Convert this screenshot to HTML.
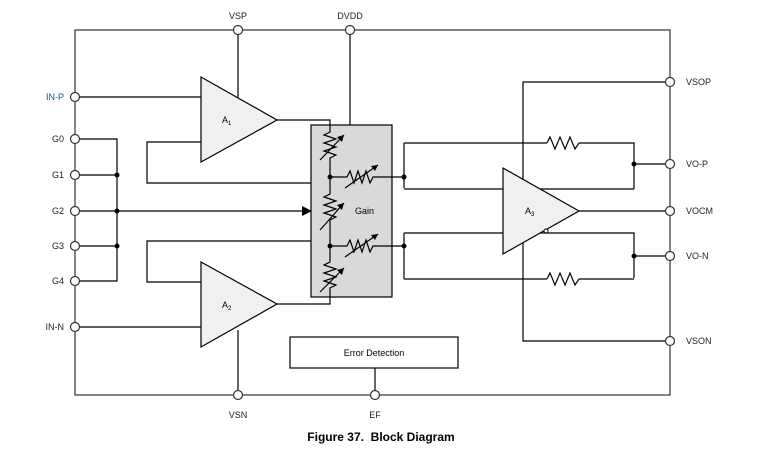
<!DOCTYPE html>
<html><head><style>body{margin:0;background:#fff}svg{display:block}text{font-family:"Liberation Sans",sans-serif}</style></head><body>
<svg width="763" height="457" viewBox="0 0 763 457" xmlns="http://www.w3.org/2000/svg">
<g stroke="#000" stroke-width="1.2" fill="none">
<rect x="75" y="30" width="595" height="365" stroke="#333"/>
<!-- left bus -->
<path d="M75 97H201 M75 327H201 M75 139H117V281H75 M75 175H117 M75 246H117 M75 211H305"/>
<!-- A1 loop -->
<path d="M201 142H147V183H311 M201 282H147V241H311"/>
<!-- supply lines -->
<path d="M238 30V100 M238 330V395 M350 30V125 M375 368V395"/>
<!-- A1 out -->
<path d="M277 120H330V125 M277 304H330V297"/>
<!-- right networks -->
<path d="M404 143V188 M404 143H547 M579 143H634V189 M404 189H634 M634 164H670 M404 233V279 M404 233H634V278 M404 279H547 M579 279H634 M634 256H670 M579 211H670"/>
<path d="M670 82H523V341H670"/>
<path d="M547 143l3 -6 5 12 5 -12 5 12 5 -12 5 12 4 -6 M547 279l3 -6 5 12 5 -12 5 12 5 -12 5 12 4 -6"/>
</g>
<!-- gain box -->
<rect x="311" y="125" width="81" height="172" fill="#d9d9d9" stroke="#000" stroke-width="1.2"/>
<g stroke="#000" stroke-width="1.2" fill="none">
<path d="M330 125V132l-6 3 12 4-12 4 12 4-12 4 12 4-6 3V177 M330 177V194l-6 3 12 4-12 4 12 4-12 4 12 4-6 3V246 M330 246V262l-6 3 12 4-12 4 12 4-12 4 12 4-6 3V297"/>
<path d="M330 177H347l3 -6 4 12 4 -12 4 12 4 -12 4 12 3 -6H404 M330 246H347l3 -6 4 12 4 -12 4 12 4 -12 4 12 3 -6H404"/>
<path d="M320 160L344 135 M320 230L344 203 M320 292L344 268 M345 188L378 165 M345 257L378 234"/>
</g>
<g fill="#000">
<path d="M344 135l-7 2 5 5z M344 203l-7 2 5 5z M344 268l-7 2 5 5z M378 165l-7 1 4 5z M378 234l-7 1 4 5z"/>
<path d="M302 206L312 211L302 216z"/>
<circle cx="117" cy="175" r="2.5"/><circle cx="117" cy="211" r="2.5"/><circle cx="117" cy="246" r="2.5"/>
<circle cx="330" cy="177" r="2.5"/><circle cx="330" cy="246" r="2.5"/>
<circle cx="404" cy="177" r="2.5"/><circle cx="404" cy="246" r="2.5"/>
<circle cx="634" cy="164" r="2.5"/><circle cx="634" cy="256" r="2.5"/>
</g>
<text x="355" y="214" font-size="9">Gain</text>
<!-- amps -->
<g stroke="#000" stroke-width="1.2" fill="#f0f0f0">
<path d="M201 77L277 120L201 162Z"/><path d="M201 262L277 304L201 347Z"/><path d="M503 168L579 211L503 254Z"/>
<circle cx="546" cy="231" r="2" fill="#fff" stroke-width="1"/>
<rect x="290" y="337" width="168" height="31" fill="#fff"/>
</g>
<text x="222" y="123" font-size="9">A<tspan font-size="6" dy="2">1</tspan></text>
<text x="222" y="308" font-size="9">A<tspan font-size="6" dy="2">2</tspan></text>
<text x="525" y="214" font-size="9">A<tspan font-size="6" dy="2">3</tspan></text>
<text x="374" y="356" font-size="9" text-anchor="middle">Error Detection</text>
<!-- pins -->
<g fill="#fff" stroke="#333" stroke-width="1.2">
<circle cx="75" cy="97" r="4.5"/><circle cx="75" cy="139" r="4.5"/><circle cx="75" cy="175" r="4.5"/><circle cx="75" cy="211" r="4.5"/><circle cx="75" cy="246" r="4.5"/><circle cx="75" cy="281" r="4.5"/><circle cx="75" cy="327" r="4.5"/>
<circle cx="238" cy="30" r="4.5"/><circle cx="350" cy="30" r="4.5"/><circle cx="238" cy="395" r="4.5"/><circle cx="375" cy="395" r="4.5"/>
<circle cx="670" cy="82" r="4.5"/><circle cx="670" cy="164" r="4.5"/><circle cx="670" cy="211" r="4.5"/><circle cx="670" cy="256" r="4.5"/><circle cx="670" cy="341" r="4.5"/>
</g>
<g font-size="9" fill="#222">
<text x="64" y="100" text-anchor="end" fill="#1f4e79">IN-P</text>
<text x="64" y="142" text-anchor="end">G0</text><text x="64" y="178" text-anchor="end">G1</text><text x="64" y="214" text-anchor="end">G2</text><text x="64" y="249" text-anchor="end">G3</text><text x="64" y="284" text-anchor="end">G4</text>
<text x="64" y="330" text-anchor="end">IN-N</text>
<text x="238" y="19" text-anchor="middle">VSP</text><text x="350" y="19" text-anchor="middle">DVDD</text>
<text x="238" y="418" text-anchor="middle">VSN</text><text x="375" y="418" text-anchor="middle">EF</text>
<text x="686" y="85">VSOP</text><text x="686" y="167">VO-P</text><text x="686" y="214">VOCM</text><text x="686" y="259">VO-N</text><text x="686" y="344">VSON</text>
</g>
<text x="381" y="441" font-size="12" font-weight="bold" text-anchor="middle" xml:space="preserve">Figure 37.  Block Diagram</text>
</svg>
</body></html>
